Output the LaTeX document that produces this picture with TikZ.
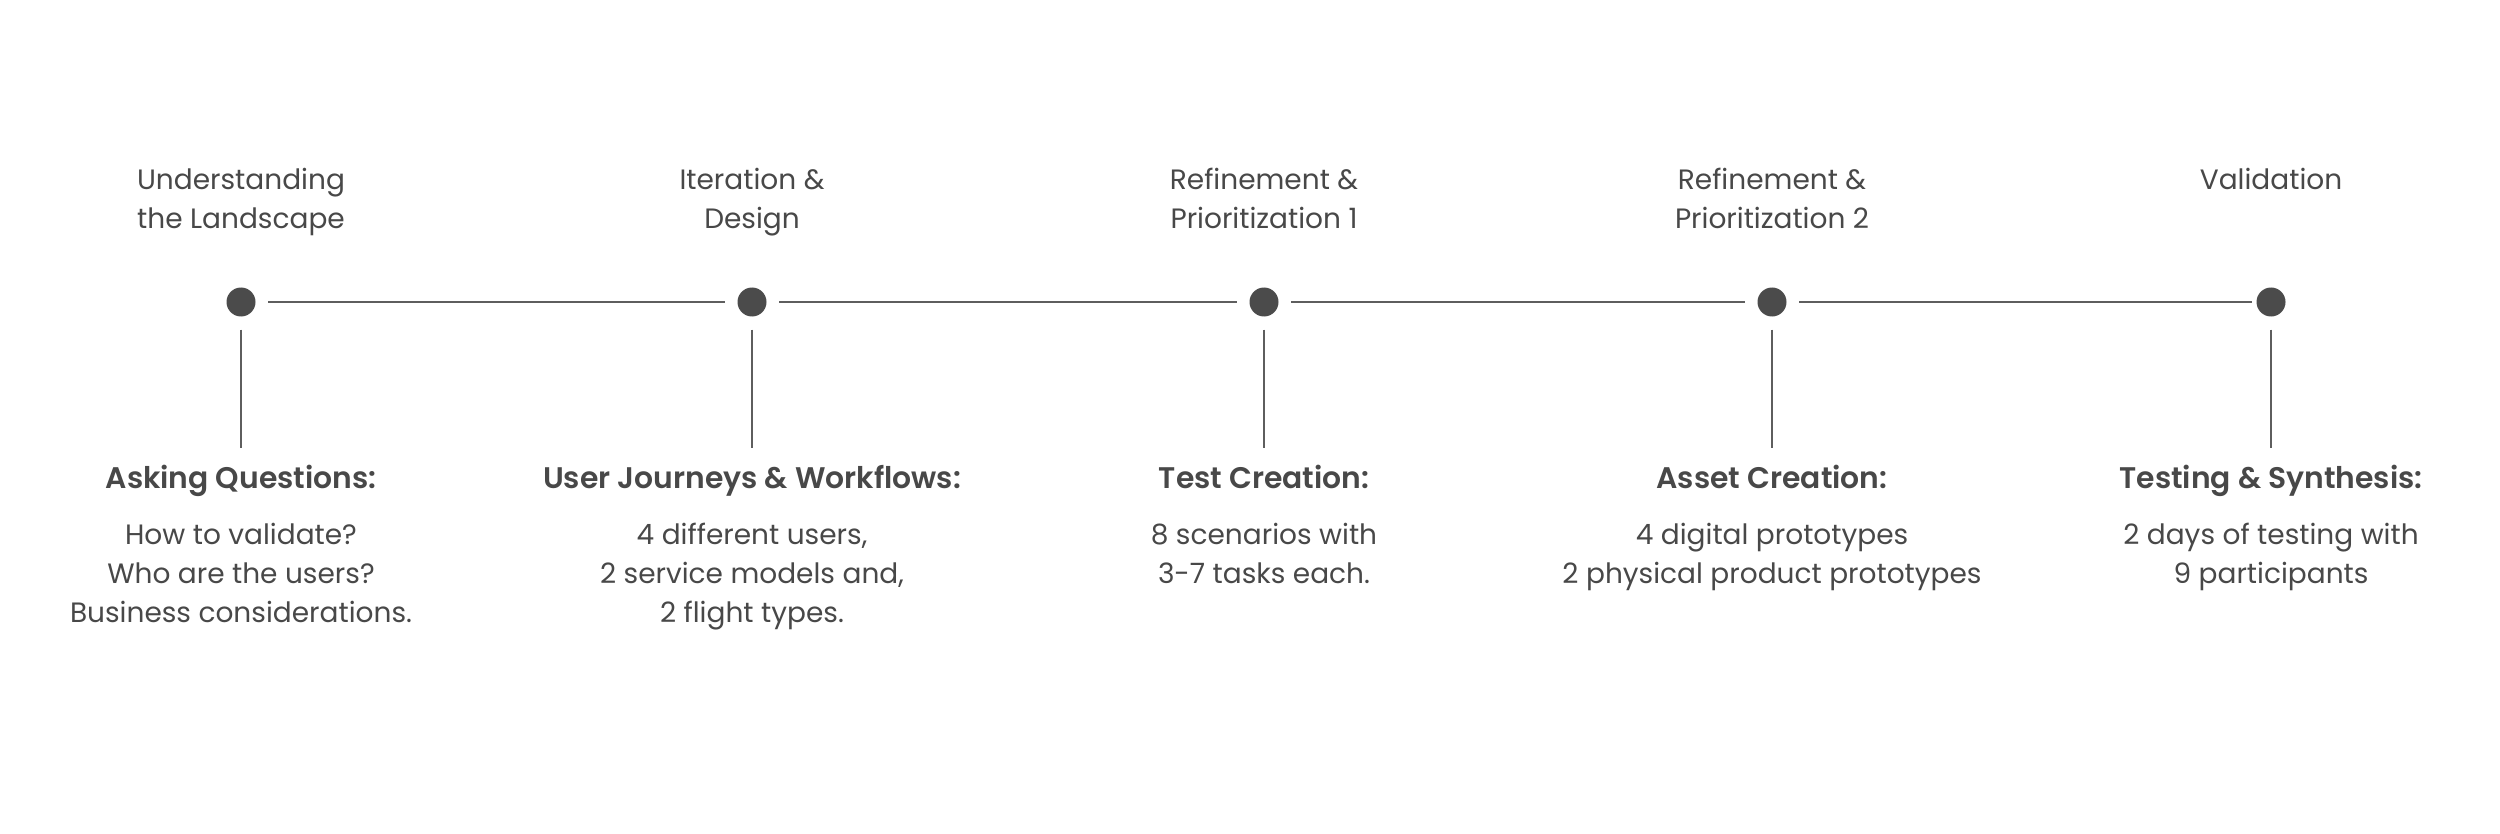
\documentclass[tikz,border=0pt]{standalone}
\usepackage{fontspec}
\setmainfont{Poppins}[BoldFont={Poppins SemiBold}]
\begin{document}
\begin{tikzpicture}[x=1pt,y=-1pt,
  dot/.style={circle,fill=dotgray,draw=none,minimum size=29pt,inner sep=0pt},
  link/.style={draw=linegray,line width=2pt},
  stem/.style={draw=linegray,line width=1.6pt},
  title/.style={anchor=base,align=center,text=txtgray,font=\fontsize{28}{39}\selectfont,inner sep=0pt},
  head/.style={anchor=base,align=center,text=txtgray,font=\fontsize{29.8}{39}\selectfont\bfseries,inner sep=0pt},
  body/.style={anchor=base,align=center,text=txtgray,font=\fontsize{28}{39}\selectfont,inner sep=0pt}]
\definecolor{dotgray}{HTML}{4B4B4B}
\definecolor{linegray}{HTML}{5E5E5E}
\definecolor{txtgray}{HTML}{484848}
\useasboundingbox[fill=white] (0,0) rectangle (2500,834);
% dots
\node[dot] (d1) at (241,302) {};
\node[dot] (d2) at (752,302) {};
\node[dot] (d3) at (1264,302) {};
\node[dot] (d4) at (1772,302) {};
\node[dot] (d5) at (2271,302) {};
% stem ends
\coordinate (e1) at (241,448);
\coordinate (e2) at (752,448);
\coordinate (e3) at (1264,448);
\coordinate (e4) at (1772,448);
\coordinate (e5) at (2271,448);
% links
\draw[link,shorten <=12.5pt,shorten >=12.5pt] (d1) -- (d2);
\draw[link,shorten <=12.5pt,shorten >=12.5pt] (d2) -- (d3);
\draw[link,shorten <=12.5pt,shorten >=12.5pt] (d3) -- (d4);
\draw[link,shorten <=12.5pt,shorten >=4.5pt] (d4) -- (d5);
\foreach \i in {1,...,5}{\draw[stem,shorten <=13pt] (d\i) -- (e\i);}
% titles (anchor = baseline of last line)
\node[title] (t1) at (241,229) {Understanding\\the Landscape};
\node[title] (t2) at (752,229) {Iteration \&\\Design};
\node[title] (t3) at (1264,229) {Refinement \&\\Prioritization 1};
\node[title] (t4) at (1772,229) {Refinement \&\\Prioritization 2};
\node[title] (t5) at (2271,190) {Validation};
% headings
\node[head] (h1) at (241,488) {Asking Questions:};
\node[head] (h2) at (752,488) {User Journeys \& Workflows:};
\node[head] (h3) at (1264,488) {Test Creation:};
\node[head] (h4) at (1772,488) {Asset Creation:};
\node[head] (h5) at (2271,488) {Testing \& Synthesis:};
% bodies
\node[body] (b1) at (241,622) {How to validate?\\Who are the users?\\Business considerations.};
\node[body] (b2) at (752,622) {4 different users,\\2 service models and,\\2 flight types.};
\node[body] (b3) at (1264,583) {8 scenarios with\\3-7 tasks each.};
\node[body] (b4) at (1772,583) {4 digital prototypes\\2 physical product prototypes};
\node[body] (b5) at (2271,583) {2 days of testing with\\9 participants};
\end{tikzpicture}
\end{document}
